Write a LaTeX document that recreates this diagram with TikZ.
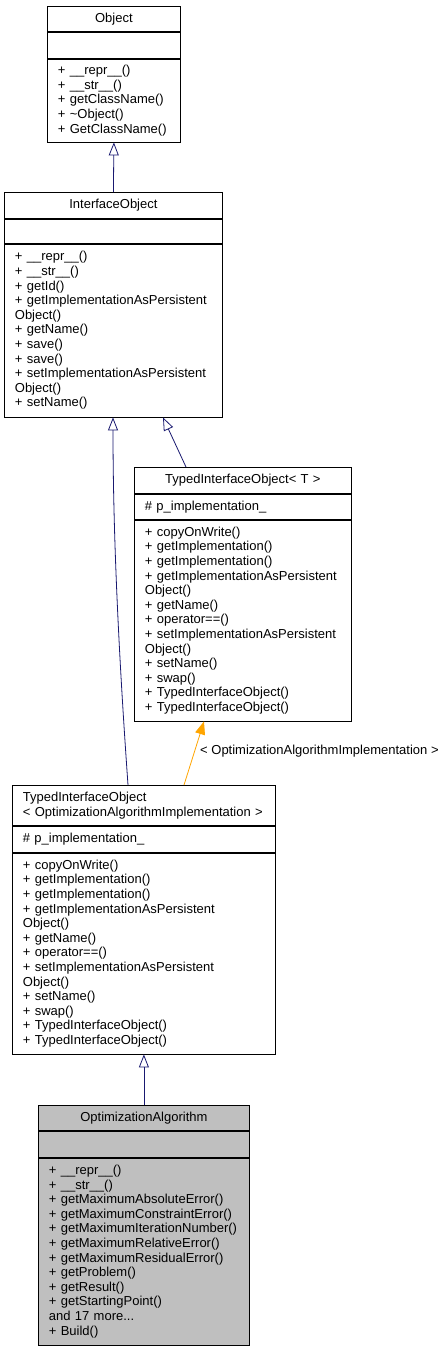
\documentclass[tikz,border=0pt]{standalone}
\usepackage{fontspec}
\setmainfont{Liberation Sans}
\usetikzlibrary{positioning,calc,arrows.meta}
\definecolor{edgeblue}{RGB}{25,25,112}
\definecolor{edgeorange}{RGB}{255,165,0}
\definecolor{classgray}{RGB}{191,191,191}
\newcommand{\umlfont}{\fontsize{13}{14.6}\selectfont}
\tikzset{
  umlpart/.style={draw=black, line width=0.8pt, inner xsep=10.5pt, inner ysep=0pt,
    align=left, font=\umlfont},
  umltitle/.style={umlpart, align=center},
  inherit/.style={draw=edgeblue, line width=0.8pt, -{Triangle[open, length=13pt, width=10pt]}},
  tmplarrow/.style={draw=edgeorange, line width=0.8pt, -{Triangle[length=13pt, width=10pt]}},
}
\begin{document}
\begin{tikzpicture}[x=1pt,y=-1pt]
\useasboundingbox[fill=white] (0,0) rectangle (447,1349);

% Object
\node[umltitle, anchor=north west, text width=112pt, minimum width=133pt, minimum height=25pt] (objT) at (47,6) {Object};
\node[umlpart, below=0pt of objT, text width=112pt, minimum width=133pt, minimum height=26pt] (objA) {};
\node[umlpart, below=0pt of objA, text width=112pt, minimum width=133pt, minimum height=83pt] (objM) {+ \_\_repr\_\_()\\+ \_\_str\_\_()\\+ getClassName()\\+ \textasciitilde Object()\\+ GetClassName()};

% InterfaceObject
\node[umltitle, anchor=north west, text width=197pt, minimum width=218pt, minimum height=26pt] (ifT) at (4,192) {InterfaceObject};
\node[umlpart, below=0pt of ifT, text width=197pt, minimum width=218pt, minimum height=24pt] (ifA) {};
\node[umlpart, below=0pt of ifA, text width=197pt, minimum width=218pt, minimum height=173pt] (ifM) {+ \_\_repr\_\_()\\+ \_\_str\_\_()\\+ getId()\\+ getImplementationAsPersistent\\Object()\\+ getName()\\+ save()\\+ save()\\+ setImplementationAsPersistent\\Object()\\+ setName()};

% TypedInterfaceObject< T >
\node[umltitle, anchor=north west, text width=196pt, minimum width=217pt, minimum height=26pt] (tiT) at (134,467) {TypedInterfaceObject< T >};
\node[umlpart, below=0pt of tiT, text width=196pt, minimum width=217pt, minimum height=25pt] (tiA) {\# p\_implementation\_};
\node[umlpart, below=0pt of tiA, text width=196pt, minimum width=217pt, minimum height=201pt] (tiM) {+ copyOnWrite()\\+ getImplementation()\\+ getImplementation()\\+ getImplementationAsPersistent\\Object()\\+ getName()\\+ operator==()\\+ setImplementationAsPersistent\\Object()\\+ setName()\\+ swap()\\+ TypedInterfaceObject()\\+ TypedInterfaceObject()};

% TypedInterfaceObject< OptimizationAlgorithmImplementation >
\node[umlpart, anchor=north west, text width=242pt, minimum width=263pt, minimum height=40pt] (toT) at (12,785) {TypedInterfaceObject\\< OptimizationAlgorithmImplementation >};
\node[umlpart, below=0pt of toT, text width=242pt, minimum width=263pt, minimum height=26pt] (toA) {\# p\_implementation\_};
\node[umlpart, below=0pt of toA, text width=242pt, minimum width=263pt, minimum height=201pt] (toM) {+ copyOnWrite()\\+ getImplementation()\\+ getImplementation()\\+ getImplementationAsPersistent\\Object()\\+ getName()\\+ operator==()\\+ setImplementationAsPersistent\\Object()\\+ setName()\\+ swap()\\+ TypedInterfaceObject()\\+ TypedInterfaceObject()};

% OptimizationAlgorithm
\node[umltitle, fill=classgray, anchor=north west, text width=190pt, minimum width=211pt, minimum height=25pt] (oaT) at (38,1105) {OptimizationAlgorithm};
\node[umlpart, fill=classgray, below=0pt of oaT, text width=190pt, minimum width=211pt, minimum height=26pt] (oaA) {};
\node[umlpart, fill=classgray, below=0pt of oaA, text width=190pt, minimum width=211pt, minimum height=187pt] (oaM) {+ \_\_repr\_\_()\\+ \_\_str\_\_()\\+ getMaximumAbsoluteError()\\+ getMaximumConstraintError()\\+ getMaximumIterationNumber()\\+ getMaximumRelativeError()\\+ getMaximumResidualError()\\+ getProblem()\\+ getResult()\\+ getStartingPoint()\\and 17 more...\\+ Build()};

% inheritance
\draw[inherit] (ifT.north) -- (objM.south);
\draw[inherit] ($(tiT.north west)+(52,0)$) -- ($(ifM.south west)+(159,0)$);
\draw[inherit] ($(toT.north west)+(116,0)$) .. controls (122,700) and (113,560) .. ($(ifM.south west)+(109,0)$);
\draw[tmplarrow] ($(toT.north west)+(172,0)$) -- ($(tiM.south west)+(70,0)$);
\draw[inherit] (oaT.north) -- (toM.south);

\node[font=\umlfont, anchor=west, inner sep=0pt] (tmplarg) at (200,751) {< OptimizationAlgorithmImplementation >};
\end{tikzpicture}
\end{document}
